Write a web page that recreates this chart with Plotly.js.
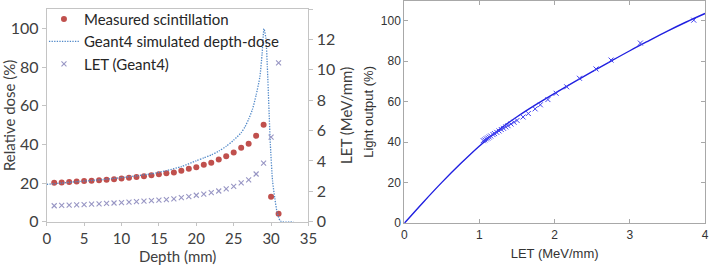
<!DOCTYPE html>
<html><head><meta charset="utf-8">
<script src="https://cdn.plot.ly/plotly-3.0.1.min.js"></script>
<style>html,body{margin:0;padding:0;background:#fff;}#chart{width:709px;height:265px;}</style>
</head><body><div id="chart"></div>
<script>
// Left panel: depth profiles
const measDepth = [1,2,3,4,5,6,7,8,9,10,11,12,13,14,15,16,17,18,19,20,21,22,23,24,25,26,27,28,29,30,31];
const measScint = [20.1,20.3,20.5,20.8,21.0,21.2,21.4,21.7,22.0,22.3,22.7,23.1,23.5,24.0,24.6,25.1,25.5,26.3,27.4,28.2,29.4,30.5,32.2,33.8,35.8,38.2,40.3,44.4,50.1,12.9,4.1];
const simDepth = [0,2,4,6,8,10,12,14,16,18,20,21,22,23,24,25,26,26.5,27,27.5,28,28.5,28.8,29.05,29.3,29.5,29.7,29.9,30.2,30.5,30.8,31.2,31.5,33];
const simDose = [19.3,20.0,20.7,21.3,22.0,22.8,23.7,24.8,26.4,28.5,31.5,33.0,34.5,36.5,39.0,42.2,46.0,49.0,53.0,58.0,65.5,75.0,86.9,99.8,95.0,80.0,60.0,40.0,21.0,12.0,5.0,0.5,0,0];
const letDepth = [1,2,3,4,5,6,7,8,9,10,11,12,13,14,15,16,17,18,19,20,21,22,23,24,25,26,27,28,29,30,31];
const letG4 = [1.05,1.07,1.09,1.11,1.13,1.15,1.18,1.20,1.23,1.26,1.29,1.32,1.35,1.38,1.42,1.46,1.50,1.58,1.65,1.74,1.81,1.91,2.02,2.16,2.33,2.55,2.75,3.14,3.85,5.56,10.45];
// Right panel: light output vs LET
const pointLET = [1.05,1.07,1.09,1.11,1.13,1.15,1.18,1.20,1.23,1.26,1.29,1.32,1.35,1.38,1.42,1.46,1.50,1.58,1.65,1.74,1.81,1.91,2.02,2.16,2.33,2.55,2.75,3.14,3.85];
const pointLight = [40.8,41.2,41.7,42.1,42.6,43.1,43.8,44.3,44.9,45.6,46.3,46.9,47.6,48.2,49.0,49.9,50.8,52.5,54.2,56.5,58.5,61.1,64.2,67.4,71.6,76.2,80.6,89.0,100.3];
const fitLET = [0,0.25,0.5,0.75,1,1.25,1.5,1.75,2,2.25,2.5,2.75,3,3.25,3.5,3.75,4];
const fitLight = [0,10.3,20.2,29.5,38.2,45.9,52.6,58.6,64.2,69.6,74.9,80.1,85.2,90.1,94.9,99.4,103.6];
// Tick labels
const depthTicks = [0,5,10,15,20,25,30,35];
const doseTicks = [0,20,40,60,80,100];
const letTicks = [0,2,4,6,8,10,12,14];
const letAxisTicks = [0,1,2,3,4];
const lightTicks = [0,20,40,60,80,100];

const leftFont = 'Lato, "Open Sans", sans-serif';
const rightFont = '"Liberation Sans", Arial, sans-serif';
const gray = '#c4c4c4';
const lc = '#404040';

const traces = [
  {x: measDepth, y: measScint, type:'scatter', mode:'markers', name:'Measured scintillation',
   marker:{color:'#c0504d', size:6, symbol:'circle'}, xaxis:'x', yaxis:'y'},
  {x: simDepth, y: simDose, type:'scatter', mode:'lines', name:'Geant4 simulated depth-dose',
   line:{color:'#5088c8', width:1.3, dash:'1.3px,1.3px', shape:'spline', smoothing:0.6}, xaxis:'x', yaxis:'y'},
  {x: letDepth, y: letG4, type:'scatter', mode:'markers', name:'LET (Geant4)',
   marker:{color:'#9896c4', size:5, symbol:'x-thin-open', line:{color:'#9896c4', width:1.1}}, xaxis:'x', yaxis:'y2'},
  {x: fitLET, y: fitLight, type:'scatter', mode:'lines', showlegend:false,
   line:{color:'#2020e0', width:1.4, shape:'spline'}, xaxis:'x2', yaxis:'y3'},
  {x: pointLET, y: pointLight, type:'scatter', mode:'markers', showlegend:false,
   marker:{color:'#4040f0', size:5, symbol:'x-thin-open', line:{color:'#4040f0', width:1}}, xaxis:'x2', yaxis:'y3'}
];

const layout = {
  width:709, height:265, margin:{l:0,r:0,t:0,b:0},
  paper_bgcolor:'#fff', plot_bgcolor:'#fff',
  font:{family:leftFont, size:15, color:lc},
  showlegend:true,
  legend:{x:0.062, y:0.99, xanchor:'left', yanchor:'top', bgcolor:'rgba(0,0,0,0)',
          font:{family:leftFont, size:15, color:'#262626'}, tracegroupgap:0},
  xaxis:{domain:[0.0659,0.4351], anchor:'y', range:[0,35], tickvals:depthTicks,
         ticks:'outside', ticklen:3, tickcolor:gray, showline:true, linecolor:gray, mirror:true,
         showgrid:false, zeroline:false, tickfont:{size:15, color:lc},
         title:{text:'Depth (mm)', font:{size:15, color:lc}, standoff:0}},
  yaxis:{domain:[0.1634,0.966], anchor:'x', range:[0,110], tickvals:doseTicks,
         ticks:'outside', ticklen:4, tickcolor:gray, showline:true, linecolor:gray, mirror:true,
         showgrid:false, zeroline:false, tickfont:{size:16, color:lc},
         title:{text:'Relative dose (%)', font:{size:15, color:lc}, standoff:5}},
  yaxis2:{overlaying:'y', side:'right', anchor:'x', range:[0,14], tickvals:letTicks,
          ticks:'outside', ticklen:4, tickcolor:gray, showline:true, linecolor:gray,
          showgrid:false, zeroline:false, tickfont:{size:16, color:lc},
          title:{text:'LET (MeV/mm)', font:{size:15, color:lc}, standoff:7}},
  xaxis2:{domain:[0.5702,0.9944], anchor:'y3', range:[0,4], tickvals:letAxisTicks,
          ticks:'inside', ticklen:4, tickcolor:'#a8a8a8', showline:true, linecolor:'#a8a8a8', mirror:'ticks',
          showgrid:false, zeroline:false, tickfont:{family:rightFont, size:12, color:'#333'},
          title:{text:'LET (MeV/mm)', font:{family:rightFont, size:13, color:'#333'}, standoff:8}},
  yaxis3:{domain:[0.1574,0.998], anchor:'x2', range:[0,110], tickvals:lightTicks,
          ticks:'inside', ticklen:4, tickcolor:'#a8a8a8', showline:true, linecolor:'#a8a8a8', mirror:'ticks',
          showgrid:false, zeroline:false, tickfont:{family:rightFont, size:12, color:'#333'},
          title:{text:'Light output (%)', font:{family:rightFont, size:13, color:'#333'}, standoff:4}}
};

Plotly.newPlot('chart', traces, layout, {staticPlot:true, displayModeBar:false});
</script>
</body></html>
